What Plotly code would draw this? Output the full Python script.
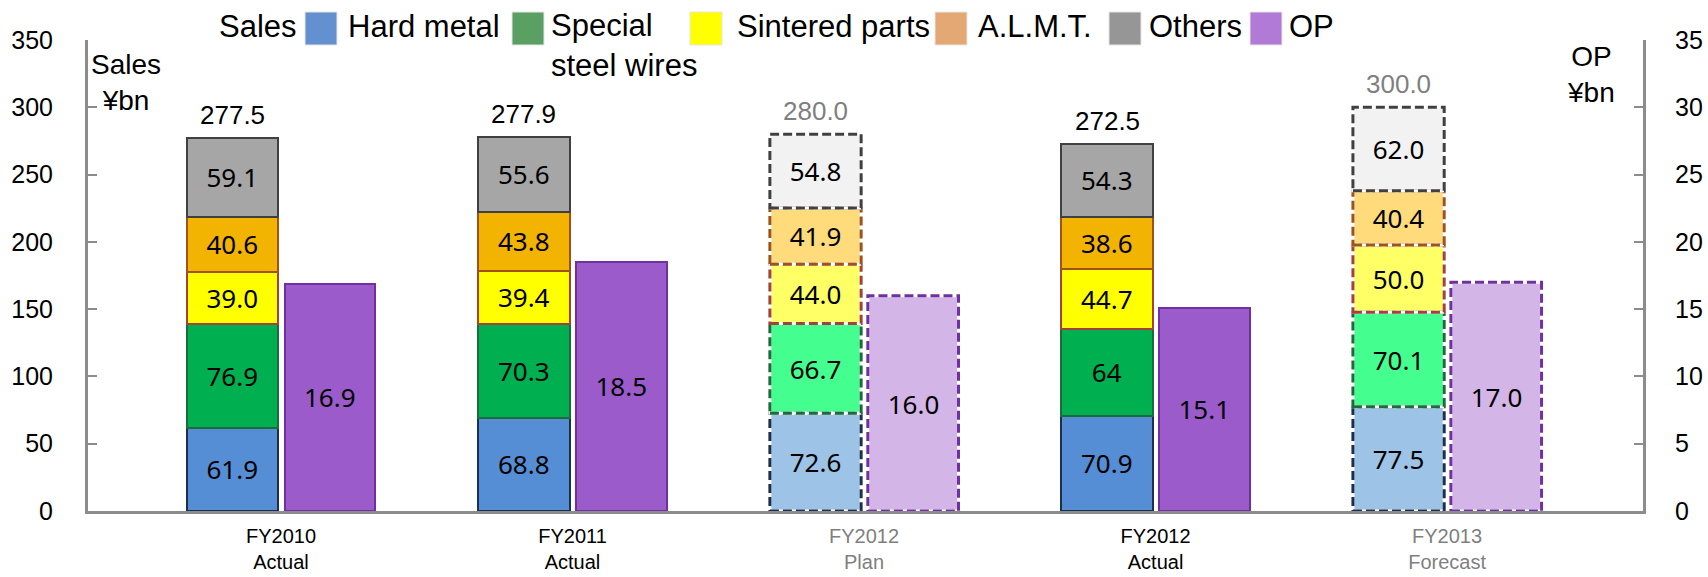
import plotly.graph_objects as go

# data
categories = ["FY2010", "FY2011", "FY2012", "FY2012", "FY2013"]
sublabels = ["Actual", "Actual", "Plan", "Actual", "Forecast"]
is_plan = [False, False, True, False, True]

hard_metal = [61.9, 68.8, 72.6, 70.9, 77.5]
special_steel = [76.9, 70.3, 66.7, 64, 70.1]
sintered = [39.0, 39.4, 44.0, 44.7, 50.0]
almt = [40.6, 43.8, 41.9, 38.6, 40.4]
others = [59.1, 55.6, 54.8, 54.3, 62.0]
sales_total = [277.5, 277.9, 280.0, 272.5, 300.0]
op = [16.9, 18.5, 16.0, 15.1, 17.0]

# name, values, fill actual, fill plan, outline, legend swatch
segments = [
    ("Hard metal", hard_metal, "#558ed5", "#9dc3e6", "#1c2f4d", "#6390cf"),
    ("Special steel wires", special_steel, "#00b050", "#45fe90", "#1d6b3b", "#5aa062"),
    ("Sintered parts", sintered, "#ffff00", "#ffff66", "#a5413b", "#ffff00"),
    ("A.L.M.T.", almt, "#f2b400", "#ffdb7c", "#a0521c", "#e3a874"),
    ("Others", others, "#a6a6a6", "#f2f2f2", "#404040", "#969696"),
]
op_style = ("#9b5bcb", "#d3b5e8", "#7030a0", "#b07ad6")

W, H = 1708, 577
L, R, T, B = 88, 1643, 40, 511


def px(xp):
    return (xp - L) / (R - L)


def py(yp):
    return (B - yp) / (B - T)


x = list(range(len(categories)))
s_off, s_w = -0.323, 0.313
o_off, o_w = 0.013, 0.311
GRAY = "#7f7f7f"
AXIS = "#8c8c8c"
VAL_FONT = dict(family="Noto Sans, Open Sans, sans-serif", size=26, color="black")
LAB_FONT = "Liberation Sans, Arial, sans-serif"

fig = go.Figure()
shapes = []
annotations = []

base = [0.0] * len(x)
for name, vals, c_act, c_plan, c_line, _ in segments:
    fig.add_trace(go.Bar(
        x=x, y=vals, name=name, offset=s_off, width=s_w,
        marker=dict(color=[c_plan if p else c_act for p in is_plan],
                    line=dict(color=c_line, width=[0 if p else 2.5 for p in is_plan])),
        text=[str(v) for v in vals], textposition="inside", insidetextanchor="middle",
        textangle=0, textfont=VAL_FONT, constraintext="none",
        yaxis="y", showlegend=False, hoverinfo="skip",
    ))
    for i in x:
        if is_plan[i]:
            for col, dash in (("white", "solid"), (c_line, "9px,4px")):
                shapes.append(dict(type="rect", xref="x", yref="y",
                                   x0=i + s_off, x1=i + s_off + s_w,
                                   y0=base[i], y1=base[i] + vals[i],
                                   line=dict(color=col, width=3, dash=dash)))
    base = [b + v for b, v in zip(base, vals)]

fig.add_trace(go.Bar(
    x=x, y=op, name="OP", offset=o_off, width=o_w, yaxis="y2",
    marker=dict(color=[op_style[1] if p else op_style[0] for p in is_plan],
                line=dict(color=op_style[2], width=[0 if p else 2.5 for p in is_plan])),
    text=[str(v) for v in op], textposition="inside", insidetextanchor="middle",
    textangle=0, textfont=VAL_FONT, constraintext="none",
    showlegend=False, hoverinfo="skip",
))
for i in x:
    if is_plan[i]:
        for col, dash in (("white", "solid"), (op_style[2], "9px,4px")):
            shapes.append(dict(type="rect", xref="x", yref="y2",
                               x0=i + o_off, x1=i + o_off + o_w, y0=0, y1=op[i],
                               line=dict(color=col, width=3, dash=dash)))

# totals above the stacks
for i, t in zip(x, sales_total):
    annotations.append(dict(xref="x", yref="y", x=i + s_off + s_w / 2, y=t,
                            text=f"{t:.1f}", xanchor="center", yanchor="bottom",
                            yshift=6, showarrow=False,
                            font=dict(family=LAB_FONT, size=26,
                                      color=GRAY if is_plan[i] else "black")))

ticktext = []
for c, s, p in zip(categories, sublabels, is_plan):
    if p:
        ticktext.append(f"<span style='color:{GRAY}'>{c}</span><br><span style='color:{GRAY}'>{s}</span>")
    else:
        ticktext.append(f"{c}<br>{s}")

# hand-drawn legend
legend_swatch_x = [305, 512, 690, 935, 1109, 1250]
legend_text_x = [346, 549, 735, 976, 1147, 1287]
legend_names = ["Hard metal", "Special<br>steel wires", "Sintered parts", "A.L.M.T.", "Others", "OP"]
legend_colors = [s[5] for s in segments] + [op_style[3]]

annotations.append(dict(xref="paper", yref="paper", x=px(217), y=py(26), text="Sales",
                        xanchor="left", yanchor="middle", showarrow=False,
                        font=dict(family=LAB_FONT, size=31, color="black")))
for sx, tx, nm, col in zip(legend_swatch_x, legend_text_x, legend_names, legend_colors):
    shapes.append(dict(type="rect", xref="paper", yref="paper",
                       x0=px(sx), x1=px(sx + 32), y0=py(45), y1=py(12),
                       fillcolor=col, line=dict(color="#e6e6e6", width=1)))
    two = "<br>" in nm
    annotations.append(dict(xref="paper", yref="paper", x=px(tx), y=py(26) if not two else py(6),
                            text=nm, xanchor="left", yanchor="middle" if not two else "top",
                            align="left", showarrow=False,
                            font=dict(family=LAB_FONT, size=31, color="black")))

annotations.append(dict(xref="paper", yref="paper", x=px(126), y=py(82), text="Sales<br>¥bn",
                        xanchor="center", yanchor="middle", align="center", showarrow=False,
                        font=dict(family=LAB_FONT, size=28, color="black")))
annotations.append(dict(xref="paper", yref="paper", x=px(1591), y=py(74), text="OP<br>¥bn",
                        xanchor="center", yanchor="middle", align="center", showarrow=False,
                        font=dict(family=LAB_FONT, size=28, color="black")))

yax = dict(showgrid=False, zeroline=False, showline=True, linecolor=AXIS, linewidth=3,
           ticks="inside", ticklen=9, tickwidth=2, tickcolor=AXIS, automargin=False,
           tickfont=dict(family=LAB_FONT, size=25, color="black"))

fig.update_layout(
    width=W, height=H, autosize=False,
    margin=dict(l=L, r=W - R, t=T, b=H - B, autoexpand=False),
    paper_bgcolor="white", plot_bgcolor="white",
    barmode="stack", bargap=0,
    showlegend=False,
    xaxis=dict(range=[-0.662, 4.672], tickvals=x, ticktext=ticktext, showgrid=False,
               zeroline=False, showline=True, linecolor=AXIS, linewidth=3, ticks="",
               automargin=False,
               tickfont=dict(family=LAB_FONT, size=20, color="black"), ticklabelstandoff=5),
    yaxis=dict(range=[0, 350], dtick=50, ticklabelstandoff=27, **yax),
    yaxis2=dict(range=[0, 35], dtick=5, overlaying="y", side="right", ticklabelstandoff=24, **yax),
    shapes=shapes, annotations=annotations,
)

fig.write_html("out.html", config={"displayModeBar": False},
               post_script="document.body.style.margin='0';")
